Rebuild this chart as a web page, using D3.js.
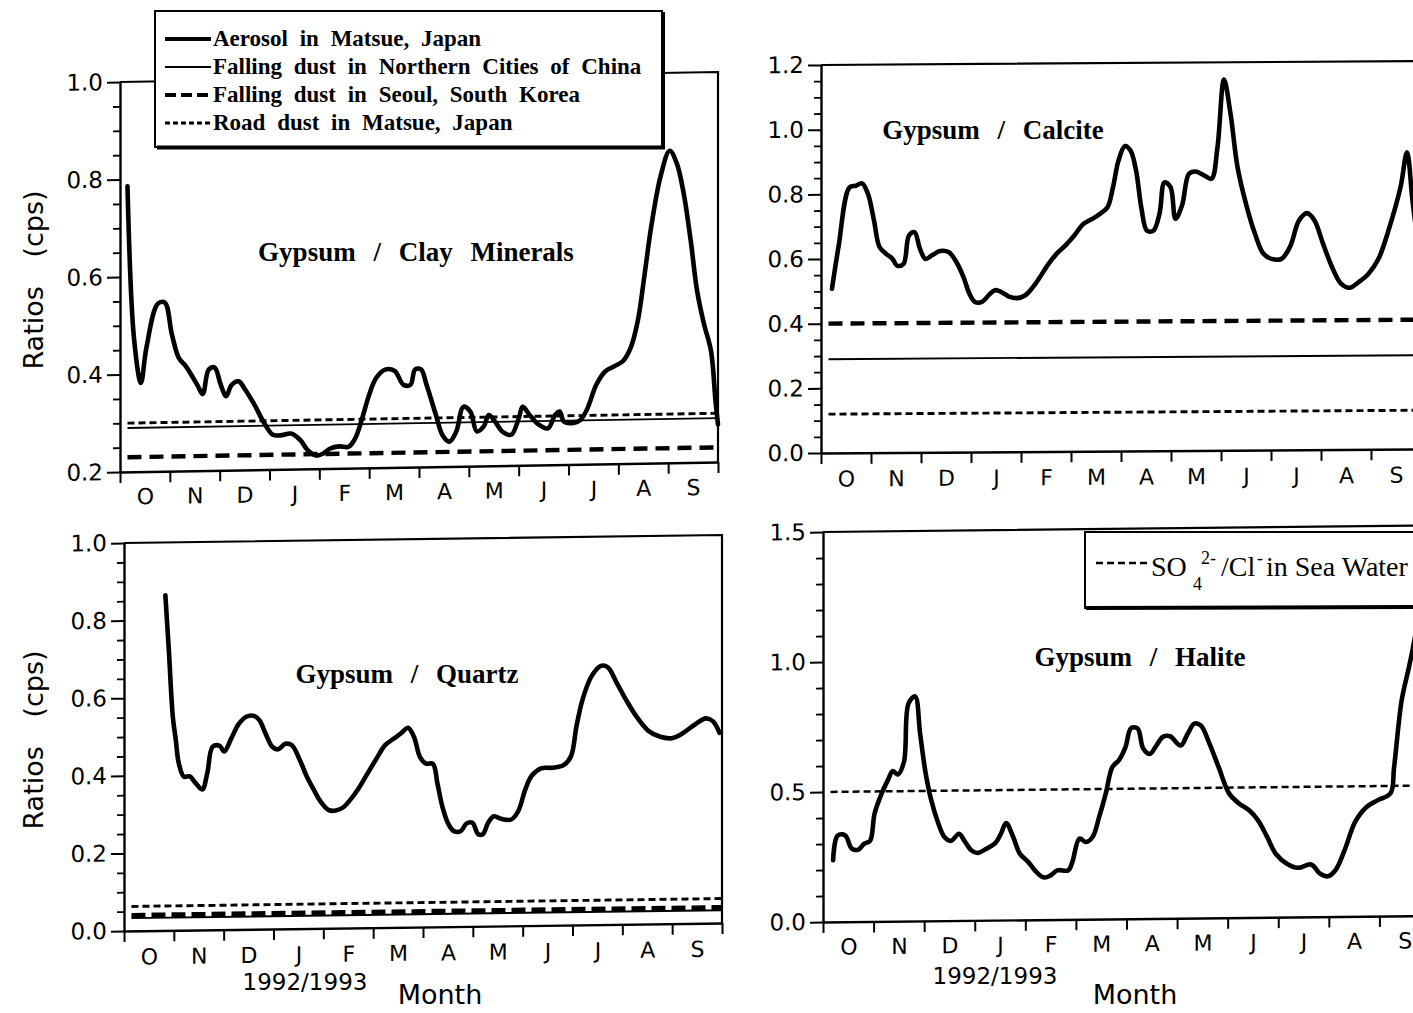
<!DOCTYPE html>
<html>
<head>
<meta charset="utf-8">
<script src="https://cdn.jsdelivr.net/npm/d3@7"></script>
<style>
  html, body { margin: 0; padding: 0; background: #fff; }
  svg { display: block; }
</style>
</head>
<body>
<svg id="chart" width="1413" height="1013"></svg>
<script>
// ---- Data -------------------------------------------------------------
// Month positions are counted from 1 October 1992 (0 = Oct 1, 12 = Oct 1 1993).
const monthLabels = ["O", "N", "D", "J", "F", "M", "A", "M", "J", "J", "A", "S"];

// Aerosol in Matsue: Gypsum / Clay Minerals
const clayMonth = [0.15, 0.28, 0.42, 0.53, 0.76, 0.9, 1.04, 1.18, 1.32, 1.55, 1.66, 1.78, 1.9, 2.02, 2.13, 2.24,
  2.38, 2.51, 2.7, 2.88, 3.07, 3.25, 3.43, 3.62, 3.76, 3.94, 4.08, 4.22, 4.4, 4.59, 4.72, 4.86, 5.0, 5.14,
  5.32, 5.51, 5.69, 5.83, 5.92, 6.04, 6.15, 6.34, 6.47, 6.61, 6.75, 6.89, 7.03, 7.16, 7.3, 7.4, 7.53, 7.67,
  7.85, 8.0, 8.08, 8.22, 8.4, 8.59, 8.73, 8.82, 8.91, 9.1, 9.24, 9.37, 9.56, 9.74, 9.92, 10.1, 10.25, 10.39,
  10.52, 10.66, 10.85, 11.03, 11.17, 11.31, 11.45, 11.58, 11.72, 11.86, 11.95, 12.0];
const clayRatio = [0.786, 0.475, 0.382, 0.454, 0.544, 0.546, 0.481, 0.432, 0.415, 0.376, 0.357, 0.407, 0.411, 0.376, 0.352, 0.375,
  0.382, 0.365, 0.333, 0.298, 0.271, 0.27, 0.273, 0.259, 0.239, 0.227, 0.231, 0.241, 0.245, 0.244, 0.261, 0.302, 0.35, 0.384,
  0.401, 0.398, 0.369, 0.369, 0.4, 0.4, 0.369, 0.306, 0.265, 0.251, 0.272, 0.322, 0.312, 0.271, 0.281, 0.304, 0.29, 0.27,
  0.263, 0.296, 0.32, 0.303, 0.283, 0.275, 0.302, 0.309, 0.288, 0.285, 0.291, 0.312, 0.363, 0.39, 0.4, 0.411, 0.438, 0.492,
  0.582, 0.685, 0.789, 0.84, 0.815, 0.753, 0.657, 0.552, 0.483, 0.428, 0.325, 0.277];

// Gypsum / Calcite
const calciteMonth = [0.22, 0.35, 0.57, 0.7, 0.82, 0.94, 1.06, 1.17, 1.3, 1.43, 1.52, 1.65, 1.76, 1.87, 1.98, 2.09,
  2.22, 2.38, 2.56, 2.71, 2.85, 2.97, 3.08, 3.22, 3.35, 3.48, 3.61, 3.76, 3.92, 4.08, 4.23, 4.36, 4.54, 4.71,
  4.89, 5.07, 5.24, 5.42, 5.58, 5.73, 5.84, 5.95, 6.08, 6.19, 6.3, 6.41, 6.52, 6.65, 6.77, 6.87, 6.99, 7.09,
  7.22, 7.36, 7.49, 7.67, 7.81, 7.93, 8.06, 8.19, 8.33, 8.5, 8.68, 8.85, 9.01, 9.21, 9.38, 9.56, 9.72, 9.87,
  10.04, 10.22, 10.4, 10.57, 10.75, 10.95, 11.15, 11.37, 11.59, 11.72, 11.83, 11.95];
const calciteRatio = [0.508, 0.637, 0.821, 0.826, 0.833, 0.8, 0.718, 0.636, 0.615, 0.599, 0.578, 0.583, 0.671, 0.681, 0.629, 0.598,
  0.609, 0.622, 0.618, 0.587, 0.541, 0.489, 0.464, 0.464, 0.484, 0.5, 0.494, 0.48, 0.475, 0.483, 0.507, 0.535, 0.578, 0.611,
  0.637, 0.668, 0.702, 0.718, 0.734, 0.754, 0.816, 0.898, 0.943, 0.929, 0.868, 0.749, 0.681, 0.681, 0.733, 0.83, 0.815, 0.717,
  0.758, 0.856, 0.863, 0.85, 0.84, 0.938, 1.147, 1.041, 0.876, 0.762, 0.669, 0.607, 0.591, 0.591, 0.628, 0.709, 0.732, 0.709,
  0.637, 0.565, 0.513, 0.5, 0.517, 0.543, 0.589, 0.687, 0.81, 0.918, 0.768, 0.62];

// Gypsum / Quartz
const quartzMonth = [0.83, 0.9, 0.98, 1.04, 1.1, 1.2, 1.32, 1.43, 1.57, 1.67, 1.78, 1.92, 2.01, 2.15, 2.3, 2.45,
  2.61, 2.72, 2.84, 2.98, 3.09, 3.24, 3.37, 3.53, 3.67, 3.81, 3.95, 4.1, 4.25, 4.41, 4.54, 4.71, 4.87, 5.05,
  5.24, 5.42, 5.56, 5.7, 5.82, 5.94, 6.06, 6.2, 6.29, 6.39, 6.5, 6.62, 6.76, 6.87, 6.99, 7.11, 7.2, 7.31,
  7.42, 7.57, 7.77, 7.91, 8.05, 8.18, 8.37, 8.6, 8.83, 8.97, 9.08, 9.2, 9.38, 9.57, 9.71, 9.89, 10.09, 10.3,
  10.53, 10.76, 10.99, 11.22, 11.45, 11.68, 11.82, 11.95];
const quartzRatio = [0.864, 0.722, 0.55, 0.49, 0.43, 0.396, 0.396, 0.38, 0.362, 0.403, 0.472, 0.474, 0.459, 0.492, 0.529, 0.548,
  0.55, 0.538, 0.504, 0.469, 0.463, 0.477, 0.473, 0.434, 0.391, 0.357, 0.326, 0.305, 0.303, 0.312, 0.33, 0.36, 0.394, 0.432,
  0.47, 0.487, 0.5, 0.514, 0.49, 0.438, 0.421, 0.42, 0.369, 0.309, 0.267, 0.246, 0.246, 0.265, 0.267, 0.237, 0.237, 0.267,
  0.283, 0.276, 0.274, 0.295, 0.35, 0.386, 0.405, 0.406, 0.413, 0.435, 0.512, 0.58, 0.64, 0.667, 0.663, 0.622, 0.575, 0.532,
  0.497, 0.482, 0.478, 0.491, 0.512, 0.528, 0.52, 0.49];

// Gypsum / Halite
const haliteMonth = [0.2, 0.29, 0.44, 0.57, 0.7, 0.81, 0.93, 1.02, 1.16, 1.28, 1.38, 1.48, 1.6, 1.69, 1.82, 1.92,
  2.03, 2.14, 2.27, 2.4, 2.53, 2.69, 2.79, 2.93, 3.06, 3.23, 3.41, 3.52, 3.62, 3.76, 3.89, 4.06, 4.22, 4.37,
  4.5, 4.63, 4.85, 4.93, 5.07, 5.2, 5.33, 5.46, 5.59, 5.72, 5.85, 5.98, 6.09, 6.22, 6.33, 6.46, 6.59, 6.72,
  6.86, 7.07, 7.21, 7.34, 7.47, 7.64, 7.82, 8.03, 8.21, 8.43, 8.6, 8.78, 8.95, 9.17, 9.39, 9.65, 9.83, 9.98,
  10.13, 10.31, 10.52, 10.74, 10.96, 11.22, 11.29, 11.44, 11.57, 11.64, 11.75];
const haliteRatio = [0.237, 0.332, 0.332, 0.281, 0.277, 0.299, 0.31, 0.415, 0.492, 0.542, 0.578, 0.564, 0.612, 0.836, 0.864, 0.72,
  0.567, 0.464, 0.38, 0.322, 0.307, 0.334, 0.308, 0.27, 0.259, 0.275, 0.297, 0.333, 0.373, 0.319, 0.255, 0.222, 0.183, 0.162,
  0.17, 0.189, 0.189, 0.221, 0.31, 0.297, 0.316, 0.393, 0.482, 0.584, 0.61, 0.66, 0.733, 0.731, 0.654, 0.633, 0.665, 0.698,
  0.7, 0.664, 0.709, 0.748, 0.74, 0.67, 0.58, 0.477, 0.441, 0.411, 0.373, 0.309, 0.244, 0.205, 0.189, 0.201, 0.165, 0.155,
  0.178, 0.254, 0.363, 0.419, 0.445, 0.472, 0.572, 0.829, 0.944, 1.008, 1.12];

// Reference levels per panel: [Clay Minerals, Calcite, Quartz]
const chinaLevel = [0.29, 0.29, 0.033];
const seoulLevel = [0.23, 0.40, 0.04];
const roadLevel  = [0.30, 0.12, 0.063];
// SO4(2-)/Cl(-) ratio in sea water, Halite panel
const seaWaterLevel = 0.5;

const legendLabels = [
  "Aerosol in Matsue, Japan",
  "Falling dust in Northern Cities of China",
  "Falling dust in Seoul, South Korea",
  "Road dust in Matsue, Japan"
];
const panelTitles = ["Gypsum / Clay Minerals", "Gypsum / Calcite", "Gypsum / Quartz", "Gypsum / Halite"];

// ---- Drawing ----------------------------------------------------------
const svg = d3.select("#chart");
svg.append("rect").attr("width", 1413).attr("height", 1013).attr("fill", "#fff");

const SANS = "'DejaVu Sans', sans-serif";
const SERIF = "'Liberation Serif', 'Times New Roman', serif";

const styles = {
  aerosol: { width: 4.6, dash: null },
  china:   { width: 1.9, dash: null },
  seoul:   { width: 4.4, dash: "14 8" },
  road:    { width: 2.9, dash: "7 4" }
};

function drawPanel(cfg) {
  const x = d3.scaleLinear().domain([0, 12]).range([cfg.left, cfg.right]);
  const y = d3.scaleLinear().domain(cfg.domain).range([cfg.bottom, cfg.top]);
  // the printed figure leans slightly upward to the right
  const ang = Math.atan(cfg.tilt / (cfg.right - cfg.left)) * 180 / Math.PI;
  const g = svg.append("g")
    .attr("transform", `translate(${cfg.left},${cfg.bottom}) skewY(${-ang}) translate(${-cfg.left},${-cfg.bottom})`);

  // frame: top and right edges
  g.append("path")
    .attr("d", `M${cfg.left},${y(cfg.domain[1])} H${cfg.right} V${y(cfg.domain[0])}`)
    .attr("fill", "none").attr("stroke", "#000").attr("stroke-width", 2.2);

  // y axis, major and minor ticks
  const [lo, hi] = cfg.domain;
  const nMajor = Math.round((hi - lo) / cfg.major);
  const majors = d3.range(nMajor + 1).map(i => +(lo + i * cfg.major).toFixed(3));
  const nMinor = Math.round((hi - lo) / cfg.minor);
  const minors = d3.range(nMinor + 1).map(i => +(lo + i * cfg.minor).toFixed(3))
    .filter(v => !majors.some(m => Math.abs(m - v) < 1e-6));

  const yAxis = g.append("g").attr("transform", `translate(${cfg.left},0)`)
    .call(d3.axisLeft(y).tickValues(majors).tickSize(13).tickSizeOuter(0).tickPadding(4)
      .tickFormat(d3.format(".1f")));
  yAxis.attr("font-family", SANS).attr("font-size", 23);
  yAxis.selectAll("text").attr("fill", "#000");
  yAxis.selectAll("line").attr("stroke", "#000").attr("stroke-width", 2);
  yAxis.select(".domain").attr("stroke", "#000").attr("stroke-width", 2.4);

  const yMinor = g.append("g").attr("transform", `translate(${cfg.left},0)`)
    .call(d3.axisLeft(y).tickValues(minors).tickSize(7).tickFormat(""));
  yMinor.select(".domain").remove();
  yMinor.selectAll("line").attr("stroke", "#000").attr("stroke-width", 1.8);

  // x axis: month boundaries
  const xAxis = g.append("g").attr("transform", `translate(0,${cfg.bottom})`)
    .call(d3.axisBottom(x).tickValues(d3.range(13)).tickSize(11).tickSizeOuter(0).tickFormat(""));
  xAxis.select(".domain").attr("stroke", "#000").attr("stroke-width", 2.4);
  xAxis.selectAll("line").attr("stroke", "#000").attr("stroke-width", 2);

  // month initials centred within each month
  const mAxis = g.append("g").attr("transform", `translate(0,${cfg.bottom + cfg.monthGap})`)
    .call(d3.axisBottom(x).tickValues(d3.range(12).map(i => i + 0.5)).tickSize(0).tickPadding(0)
      .tickFormat((d, i) => monthLabels[i]));
  mAxis.select(".domain").remove();
  mAxis.attr("font-family", SANS).attr("font-size", 22);
  mAxis.selectAll("text").attr("fill", "#000");

  // horizontal reference levels
  const refLine = (level, st) => {
    g.append("line")
      .attr("x1", x(0.15)).attr("x2", x(12))
      .attr("y1", y(level)).attr("y2", y(level))
      .attr("stroke", "#000").attr("stroke-width", st.width)
      .attr("stroke-dasharray", st.dash);
  };
  cfg.refs.forEach(r => refLine(r.level, r.style));

  // measured series
  const pts = cfg.months.map((m, i) => [m, cfg.values[i]]);
  g.append("path")
    .datum(pts)
    .attr("d", d3.line().x(d => x(d[0])).y(d => y(d[1])).curve(d3.curveCatmullRom.alpha(0.5)))
    .attr("fill", "none").attr("stroke", "#000")
    .attr("stroke-width", styles.aerosol.width)
    .attr("stroke-linejoin", "round").attr("stroke-linecap", "round");

  // panel title
  svg.append("text")
    .attr("x", cfg.titleX).attr("y", cfg.titleY)
    .attr("text-anchor", "middle")
    .attr("font-family", SERIF).attr("font-weight", "bold")
    .attr("font-size", 27).attr("word-spacing", 11)
    .text(cfg.title);

  return { x, y, g };
}

// Top-left: Gypsum / Clay Minerals
drawPanel({
  left: 120, right: 718, top: 82, bottom: 472, tilt: 10,
  domain: [0.2, 1.0], major: 0.2, minor: 0.05, monthGap: 17,
  months: clayMonth, values: clayRatio,
  refs: [
    { level: roadLevel[0], style: styles.road },
    { level: chinaLevel[0], style: styles.china },
    { level: seoulLevel[0], style: styles.seoul }
  ],
  title: panelTitles[0], titleX: 416, titleY: 261
});

// Top-right: Gypsum / Calcite
drawPanel({
  left: 821, right: 1421, top: 65, bottom: 453, tilt: 4,
  domain: [0, 1.2], major: 0.2, minor: 0.05, monthGap: 18,
  months: calciteMonth, values: calciteRatio,
  refs: [
    { level: roadLevel[1], style: styles.road },
    { level: chinaLevel[1], style: styles.china },
    { level: seoulLevel[1], style: styles.seoul }
  ],
  title: panelTitles[1], titleX: 993, titleY: 139
});

// Bottom-left: Gypsum / Quartz
drawPanel({
  left: 124, right: 722, top: 543, bottom: 931, tilt: 8,
  domain: [0, 1.0], major: 0.2, minor: 0.05, monthGap: 18,
  months: quartzMonth, values: quartzRatio,
  refs: [
    { level: roadLevel[2], style: styles.road },
    { level: chinaLevel[2], style: styles.china },
    { level: seoulLevel[2], style: { width: 5, dash: "14 6" } }
  ],
  title: panelTitles[2], titleX: 407, titleY: 683
});

// Bottom-right: Gypsum / Halite
drawPanel({
  left: 823, right: 1430, top: 532, bottom: 922, tilt: 6.5,
  domain: [0, 1.5], major: 0.5, minor: 0.1, monthGap: 17,
  months: haliteMonth, values: haliteRatio,
  refs: [
    { level: seaWaterLevel, style: { width: 2.5, dash: "7 4" } }
  ],
  title: panelTitles[3], titleX: 1140, titleY: 666
});

// y-axis titles
[[280], [740]].forEach(([cy]) => {
  svg.append("text")
    .attr("transform", `translate(43,${cy}) rotate(-90)`)
    .attr("text-anchor", "middle")
    .attr("font-family", SANS).attr("font-size", 27)
    .attr("word-spacing", 20)
    .text("Ratios (cps)");
});

// x-axis titles under the bottom panels
[[305, 440], [995, 1135]].forEach(([yrX, mX], i) => {
  svg.append("text")
    .attr("x", yrX).attr("y", i === 0 ? 990 : 984)
    .attr("text-anchor", "middle")
    .attr("font-family", SANS).attr("font-size", 23)
    .text("1992/1993");
  svg.append("text")
    .attr("x", mX).attr("y", 1004)
    .attr("text-anchor", "middle")
    .attr("font-family", SANS).attr("font-size", 27)
    .text("Month");
});

// ---- Legend for the source types --------------------------------------
const leg = svg.append("g");
leg.append("rect")
  .attr("x", 155).attr("y", 11).attr("width", 507).attr("height", 136)
  .attr("fill", "#fff").attr("stroke", "#000").attr("stroke-width", 2);
leg.append("path")
  .attr("d", "M157,147.5 H663 V12")
  .attr("fill", "none").attr("stroke", "#000").attr("stroke-width", 4);
const legendStyles = [
  { width: 4, dash: null },
  { width: 1.8, dash: null },
  { width: 4, dash: "11 5" },
  { width: 2.8, dash: "5 3" }
];
legendLabels.forEach((label, i) => {
  const cy = 39 + i * 28;
  leg.append("line")
    .attr("x1", 165).attr("x2", 211).attr("y1", cy).attr("y2", cy)
    .attr("stroke", "#000").attr("stroke-width", legendStyles[i].width)
    .attr("stroke-dasharray", legendStyles[i].dash);
  leg.append("text")
    .attr("x", 213).attr("y", cy + 7)
    .attr("font-family", SERIF).attr("font-weight", "bold")
    .attr("font-size", 23).attr("word-spacing", 6)
    .text(label);
});

// ---- Legend for the sea-water ratio -----------------------------------
const leg2 = svg.append("g");
leg2.append("rect")
  .attr("x", 1085).attr("y", 532).attr("width", 345).attr("height", 76)
  .attr("fill", "#fff").attr("stroke", "#000").attr("stroke-width", 2);
leg2.append("line")
  .attr("x1", 1086).attr("x2", 1430).attr("y1", 608).attr("y2", 607)
  .attr("stroke", "#000").attr("stroke-width", 4);
leg2.append("line")
  .attr("x1", 1096).attr("x2", 1150).attr("y1", 563).attr("y2", 563)
  .attr("stroke", "#000").attr("stroke-width", 2.4).attr("stroke-dasharray", "7 4");
const seaText = leg2.append("text")
  .attr("y", 576).attr("font-family", SERIF).attr("font-size", 28);
seaText.append("tspan").attr("x", 1151).text("SO");
seaText.append("tspan").attr("x", 1193).attr("dy", 14).attr("font-size", 18).text("4");
seaText.append("tspan").attr("x", 1201).attr("dy", -26).attr("font-size", 18).text("2-");
seaText.append("tspan").attr("x", 1221).attr("dy", 12).text("/Cl");
seaText.append("tspan").attr("x", 1257).attr("dy", -12).attr("font-size", 18).text("-");
seaText.append("tspan").attr("x", 1266).attr("dy", 12).text("in Sea Water");
</script>
</body>
</html>
